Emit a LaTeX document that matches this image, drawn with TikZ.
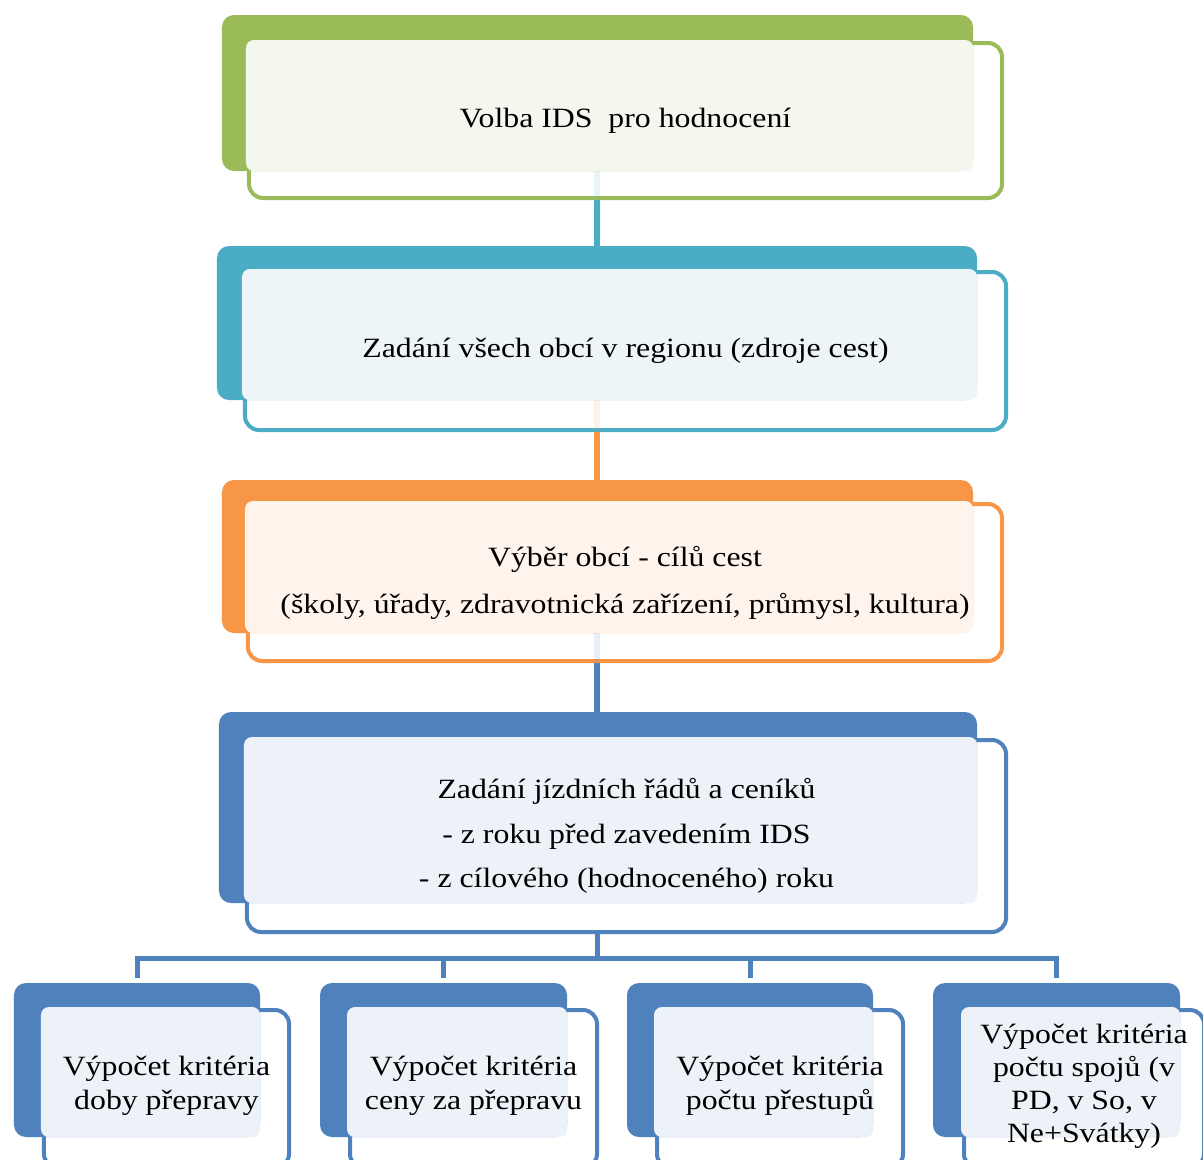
\documentclass[tikz,border=0pt]{standalone}
\usepackage{fontspec}
\setmainfont{Liberation Serif}[FakeStretch=1.14]
\definecolor{cgreen}{HTML}{9BBB59}
\definecolor{tgreen}{HTML}{F4F7EE}
\definecolor{cteal}{HTML}{4BACC6}
\definecolor{tteal}{HTML}{EDF5F9}
\definecolor{corange}{HTML}{F79646}
\definecolor{torange}{HTML}{FEF4EC}
\definecolor{cblue}{HTML}{4F81BD}
\definecolor{tblue}{HTML}{EDF1F8}
\tikzset{
  backbox/.style={rectangle, rounded corners=12bp, inner sep=0pt, draw=none, fill=#1},
  frontbox/.style={rectangle, rounded corners=14bp, inner sep=0pt, fill=white, draw=#1, line width=4bp},
  tintfill/.style={fill=#1, rounded corners=8bp},
  biglabel/.style={align=center, inner sep=0pt, font=\fontsize{28}{45}\selectfont},
  smalllabel/.style={align=center, inner sep=0pt, font=\fontsize{28}{34}\selectfont},
  link/.style={line width=6bp, draw=#1},
  faint/.style={line width=6bp, draw=#1, draw opacity=0.12},
  tree/.style={line width=5bp, draw=cblue},
}
\begin{document}
\begin{tikzpicture}[x=1bp,y=-1bp]
\useasboundingbox (0,0) rectangle (1203,1160);
\clip (0,0) rectangle (1203,1160);
% ---------- box 1
\node[frontbox=cgreen, minimum width=753bp, minimum height=155bp] (Af) at (625.5,120.5) {};
\node[backbox=cgreen, minimum width=751bp, minimum height=156bp] (Ab) at (597.5,93) {};
\fill[tintfill=tgreen] ([xshift=-1bp,yshift=1bp]Af.north west) rectangle (Ab.south east);
\node[biglabel] (Al) at (Af.center) {Volba IDS \ pro hodnocení};
% ---------- box 2
\node[frontbox=cteal, minimum width=761bp, minimum height=158bp] (Bf) at (625.5,351) {};
\node[backbox=cteal, minimum width=760bp, minimum height=154bp] (Bb) at (597,323) {};
\fill[tintfill=tteal] ([xshift=-1bp,yshift=1bp]Bf.north west) rectangle (Bb.south east);
\node[biglabel] (Bl) at (Bf.center) {Zadání všech obcí v regionu (zdroje cest)};
% ---------- box 3
\node[frontbox=corange, minimum width=754bp, minimum height=157bp] (Cf) at (625,582.5) {};
\node[backbox=corange, minimum width=751bp, minimum height=153bp] (Cb) at (597.5,556.5) {};
\fill[tintfill=torange] ([xshift=-1bp,yshift=1bp]Cf.north west) rectangle (Cb.south east);
\node[biglabel, font=\fontsize{28}{47}\selectfont] (Cl) at (Cf.center) {Výběr obcí - cílů cest\\(školy, úřady, zdravotnická zařízení, průmysl, kultura)};
% ---------- box 4
\node[frontbox=cblue, minimum width=759bp, minimum height=192bp] (Df) at (626.5,836) {};
\node[backbox=cblue, minimum width=758bp, minimum height=191bp] (Db) at (598,807.5) {};
\fill[tintfill=tblue] ([xshift=-1bp,yshift=1bp]Df.north west) rectangle (Db.south east);
\node[biglabel] (Dl) at (Df.center) {Zadání jízdních řádů a ceníků\\- z roku před zavedením IDS\\- z cílového (hodnoceného) roku};
% ---------- bottom boxes
\node[frontbox=cblue, minimum width=245bp, minimum height=158bp] (Pf) at (166.5,1089) {};
\node[backbox=cblue, minimum width=246bp, minimum height=154bp] (Pb) at (137,1060) {};
\fill[tintfill=tblue] ([xshift=-1bp,yshift=1bp]Pf.north west) rectangle (Pb.south east);
\node[smalllabel] (Pl) at (166.5,1086) {Výpočet kritéria\\doby přepravy};
\node[frontbox=cblue, minimum width=247bp, minimum height=158bp] (Qf) at (473.5,1089) {};
\node[backbox=cblue, minimum width=247bp, minimum height=154bp] (Qb) at (443.5,1060) {};
\fill[tintfill=tblue] ([xshift=-1bp,yshift=1bp]Qf.north west) rectangle (Qb.south east);
\node[smalllabel] (Ql) at (473.5,1086) {Výpočet kritéria\\ceny za přepravu};
\node[frontbox=cblue, minimum width=246bp, minimum height=158bp] (Rf) at (780,1089) {};
\node[backbox=cblue, minimum width=246bp, minimum height=154bp] (Rb) at (750,1060) {};
\fill[tintfill=tblue] ([xshift=-1bp,yshift=1bp]Rf.north west) rectangle (Rb.south east);
\node[smalllabel] (Rl) at (780,1086) {Výpočet kritéria\\počtu přestupů};
\node[frontbox=cblue, minimum width=240bp, minimum height=158bp] (Sf) at (1084,1089) {};
\node[backbox=cblue, minimum width=247bp, minimum height=154bp] (Sb) at (1056.5,1060) {};
\fill[tintfill=tblue] ([xshift=-1bp,yshift=1bp]Sf.north west) rectangle (Sb.south east);
\node[smalllabel, font=\fontsize{28}{33}\selectfont] (Sl) at (1084,1086) {Výpočet kritéria\\počtu spojů (v\\PD, v So, v\\Ne+Svátky)};
% ---------- connectors
\coordinate (split) at (597,958);
\draw[faint=cteal] (split |- Ab.south) -- (split |- Af.south);
\draw[link=cteal] (split |- Af.south) -- (split |- Bb.north);
\draw[faint=corange] (split |- Bb.south) -- (split |- Bf.south);
\draw[link=corange] (split |- Bf.south) -- (split |- Cb.north);
\draw[faint=cblue] (split |- Cb.south) -- (split |- Cf.south);
\draw[link=cblue] (split |- Cf.south) -- (split |- Db.north);
\draw[tree] (split |- Df.south) -- (split);
\draw[tree, shorten <=5bp, shorten >=5bp] (Pb.north) |- (split) -| (Sb.north);
\draw[tree, shorten <=5bp] (Qb.north) -- (Qb.north |- split);
\draw[tree, shorten <=5bp] (Rb.north) -- (Rb.north |- split);
\end{tikzpicture}
\end{document}
